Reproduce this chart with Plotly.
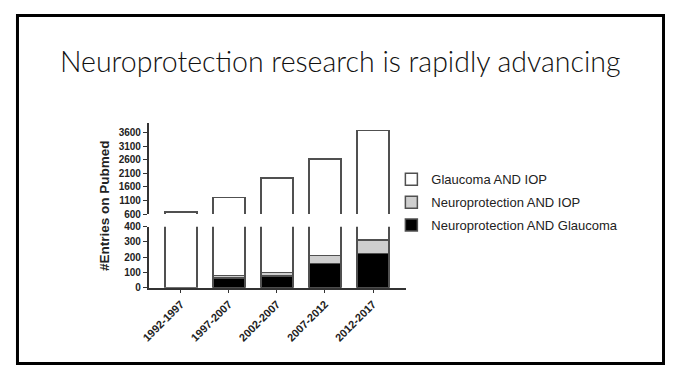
import plotly.graph_objects as go

periods = ["1992-1997", "1997-2007", "2002-2007", "2007-2012", "2012-2017"]
neuro_glaucoma = [0, 65, 76, 157, 225]
neuro_iop = [0, 15, 24, 53, 88]
glaucoma_iop = [680, 1120, 1820, 2410, 3365]

upper_ticks = [600, 1100, 1600, 2100, 2600, 3100, 3600]
lower_ticks = [0, 100, 200, 300, 400]

OFF = 8
W, H = 673 - 2 * OFF, 378 - 2 * OFF
def px(x):
    return (x - OFF) / W
def py(y):
    return 1 - (y - OFF) / H

series = [
    ("Neuroprotection AND Glaucoma", neuro_glaucoma, "#000000", 3),
    ("Neuroprotection AND IOP", neuro_iop, "#cfcfcf", 2),
    ("Glaucoma AND IOP", glaucoma_iop, "#ffffff", 1),
]

fig = go.Figure()
for name, vals, col, rank in series:
    for xa, ya, show in (("x", "y", True), ("x2", "y2", False)):
        fig.add_trace(go.Bar(
            x=periods, y=vals, name=name, xaxis=xa, yaxis=ya,
            marker=dict(color=col, line=dict(color="#505050", width=1.5)),
            showlegend=show, legendgroup=name, legendrank=rank,
        ))

tickfont = dict(family="Liberation Sans", size=10, color="#222222", weight="bold")
axis_common = dict(showline=True, linecolor="#333333", linewidth=1.5,
                   ticks="outside", ticklen=4, tickwidth=1.2, tickcolor="#333333",
                   showgrid=False, zeroline=False)

xdom = [px(142.3), px(402.5)]
xr = [-0.67, 4.68]
fig.update_layout(
    width=W, height=H,
    margin=dict(l=0, r=0, t=0, b=0),
    paper_bgcolor="white", plot_bgcolor="rgba(0,0,0,0)",
    barmode="stack", bargap=0.333,
    xaxis=dict(domain=xdom, anchor="y", range=xr, tickangle=-45,
               tickfont=dict(family="Liberation Sans", size=11, color="#222222", weight="bold"),
               **axis_common),
    xaxis2=dict(domain=xdom, anchor="y2", range=xr, visible=False, matches="x"),
    yaxis=dict(domain=[py(290.3), py(227.3)], anchor="x", range=[0, 400],
               tickvals=lower_ticks, tickfont=tickfont, **axis_common),
    yaxis2=dict(domain=[py(214.3), py(120)], anchor="x2", range=[600, 3968],
                tickvals=upper_ticks, tickfont=tickfont, **axis_common),
    legend=dict(x=px(388), y=py(163), xanchor="left", yanchor="top",
                traceorder="grouped", tracegroupgap=3,
                font=dict(family="Liberation Sans", size=13, color="#222222"),
                bgcolor="rgba(0,0,0,0)"),
    showlegend=True,
    shapes=[dict(type="rect", xref="paper", yref="paper",
                 x0=px(9.5), x1=px(663.5), y0=py(368.5), y1=py(9.5),
                 line=dict(color="#000000", width=3))],
    annotations=[
        dict(text="Neuroprotection research is rapidly advancing", xref="paper", yref="paper",
             x=px(337), y=py(56), xanchor="center", yanchor="middle", showarrow=False,
             font=dict(family="Lato", size=28.5, color="#111111", weight=300)),
        dict(text="#Entries on Pubmed", xref="paper", yref="paper",
             x=px(97), y=py(205), xanchor="center", yanchor="middle", showarrow=False,
             textangle=-90,
             font=dict(family="Liberation Sans", size=13.5, color="#222222", weight="bold")),
    ],
)

fig.write_html("out.html", config={"displayModeBar": False})
